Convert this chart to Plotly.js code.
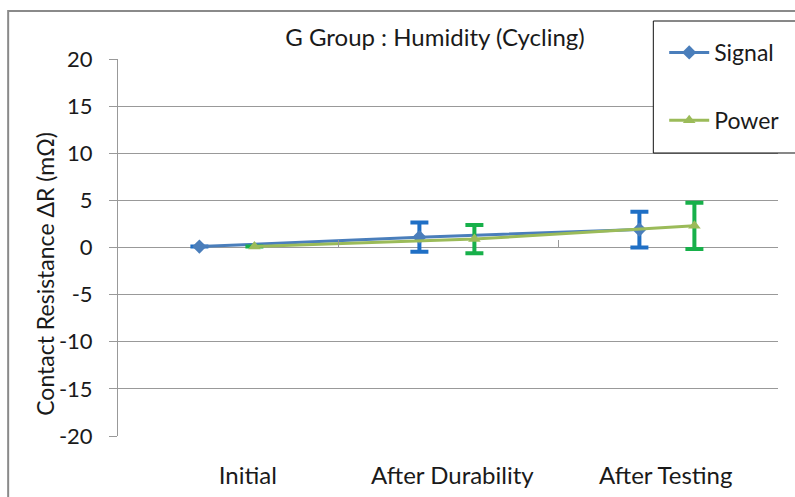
<!DOCTYPE html>
<html>
<head>
<meta charset="utf-8">
<script src="https://cdn.plot.ly/plotly-3.0.1.min.js"></script>
<style>
html,body{margin:0;padding:0;background:#fff;}
#chart{width:795px;height:497px;}
</style>
</head>
<body>
<div id="chart"></div>
<script>
// ---- data ----
const categories = ['Initial', 'After Durability', 'After Testing'];
const signalValues = [0.1, 1.1, 1.9];
const signalErrors = [0, 1.55, 1.9];
const powerValues = [0.1, 0.9, 2.3];
const powerErrors = [0, 1.5, 2.45];
const yTicks = [-20, -15, -10, -5, 0, 5, 10, 15, 20];
const yTickText = ['-20', '-15', '-10', '-5', '0', '5', '10', '15', '20'];

// ---- style ----
const FONT = 'Lato, "Open Sans", sans-serif';
const TXT = '#1a1a1a';
const GRID = '#999999';
const signalOffset = -0.13;
const powerOffset = 0.12;
const labelNudge = [0.09, 0.02, -0.01];
const idx = categories.map((c, i) => i);

const signalTrace = {
  x: idx.map(i => i + signalOffset), y: signalValues,
  name: 'Signal', type: 'scatter', mode: 'lines+markers',
  line: {color: '#4A7EBB', width: 3},
  marker: {symbol: 'diamond', size: 11, color: '#4A7EBB'},
  error_y: {type: 'data', array: signalErrors, visible: true, color: '#1F6FC5', thickness: 4, width: 9},
  legendgroup: 'a'
};
const powerTrace = {
  x: idx.map(i => i + powerOffset), y: powerValues,
  name: 'Power', type: 'scatter', mode: 'lines+markers',
  line: {color: '#9BBB59', width: 3},
  marker: {symbol: 'triangle-up', size: 11, color: '#9BBB59'},
  error_y: {type: 'data', array: powerErrors, visible: true, color: '#17B04A', thickness: 4, width: 9},
  legendgroup: 'b'
};
// invisible trace on second x axis to show boundary ticks at y=0
const tickTrace = {x: [-0.5, 2.5], y: [0, 0], xaxis: 'x2', mode: 'lines', line: {width: 0}, showlegend: false, hoverinfo: 'skip'};

const layout = {
  width: 795, height: 497,
  margin: {l: 118, r: 10, t: 59, b: 61},
  paper_bgcolor: '#fff', plot_bgcolor: '#fff',
  font: {family: FONT, size: 22, color: TXT},
  title: {text: 'G Group : Humidity (Cycling)', font: {family: FONT, size: 24, color: TXT}, x: 435 / 795, xanchor: 'center', y: 1 - 38 / 497, yanchor: 'middle'},
  showlegend: true,
  legend: {x: (670 - 118) / 667, y: (436 - 31) / 377, xanchor: 'left', yanchor: 'top', bgcolor: 'rgba(0,0,0,0)', borderwidth: 0, font: {family: FONT, size: 23, color: TXT}, tracegroupgap: 35, itemwidth: 40},
  xaxis: {
    range: [-0.5, 2.5], tickvals: idx.map(i => i + labelNudge[i]), ticktext: categories,
    showgrid: false, zeroline: false, showline: false, ticks: '',
    ticklabelstandoff: 23, tickfont: {family: FONT, size: 24, color: TXT}
  },
  xaxis2: {
    range: [-0.5, 2.5], overlaying: 'x', anchor: 'free', position: 0.5,
    tickvals: [-0.5, 0.5, 1.5, 2.5], showticklabels: false, ticks: 'inside', ticklen: 8, tickcolor: GRID, tickwidth: 1,
    showgrid: false, zeroline: false, showline: false
  },
  yaxis: {
    range: [-20, 20], tickvals: yTicks, ticktext: yTickText, showgrid: true, gridcolor: GRID, gridwidth: 1,
    zeroline: true, zerolinecolor: GRID, zerolinewidth: 1,
    showline: true, linecolor: GRID, linewidth: 1,
    ticks: 'outside', ticklen: 8, tickcolor: GRID,
    tickfont: {family: FONT, size: 22, color: TXT}, ticklabelstandoff: 12
  },
  annotations: [{
    text: 'Contact Resistance ΔR (mΩ)', textangle: -90, showarrow: false,
    xref: 'paper', yref: 'paper', x: (44 - 118) / 667, y: (436 - 274) / 377, xanchor: 'center', yanchor: 'middle',
    font: {family: FONT, size: 23, color: TXT}
  }],
  shapes: [
    {type: 'rect', xref: 'paper', yref: 'paper', x0: (7 - 118) / 667, x1: (810 - 118) / 667, y0: (436 - 510) / 377, y1: (436 - 11) / 377, line: {color: '#8a8a8a', width: 2}, fillcolor: 'rgba(0,0,0,0)', layer: 'below'},
    {type: 'rect', xref: 'paper', yref: 'paper', x0: (659 - 118) / 667, x1: (810 - 118) / 667, y0: (436 - 153) / 377, y1: (436 - 21) / 377, line: {color: '#111', width: 1}, fillcolor: '#fff', layer: 'above'}
  ]
};

Plotly.newPlot('chart', [tickTrace, signalTrace, powerTrace], layout, {displayModeBar: false, staticPlot: true});
</script>
</body>
</html>
